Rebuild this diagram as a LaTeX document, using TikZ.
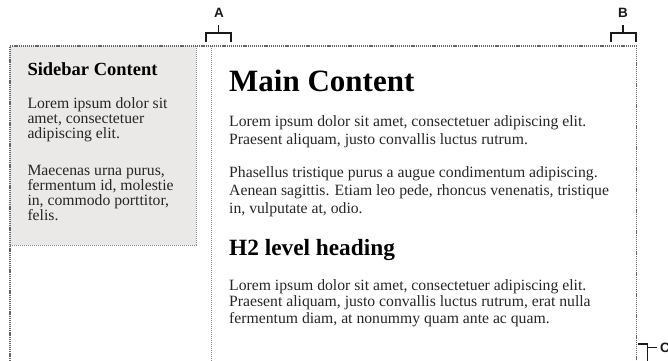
\documentclass[tikz,border=0pt]{standalone}
\usepackage{fontspec}
\setmainfont{Liberation Serif}
\newfontfamily\labelfont{Liberation Sans}
\definecolor{sidebargray}{RGB}{235,233,232}
\tikzset{
  outerline/.style={draw=black!60, line width=1.3pt, dash pattern=on 1.2pt off 0.9pt},
  boxline/.style={draw=black!45, line width=0.9pt, dash pattern=on 1pt off 1pt},
  bracket/.style={draw=black!90, line width=1.3pt},
  marklabel/.style={font=\labelfont\bfseries\fontsize{13.5}{13.5}\selectfont, text=black!90, inner sep=0pt},
  bodytext/.style={anchor=base west, inner sep=0pt, align=left, text=black!85},
  sidetext/.style={bodytext, font=\fontsize{15.7}{15}\selectfont},
  maintext/.style={bodytext, font=\fontsize{15.7}{18}\selectfont},
}
\begin{document}
\begin{tikzpicture}[x=1pt,y=-1pt]
    \useasboundingbox (0,0) rectangle (668,360);
    % Sidebar box
    \fill[sidebargray] (10,46) rectangle (196,245);
    \draw[boxline] (196,46) -- (196,245) -- (10,245);
    % Main content box
    \draw[boxline] (211,46) -- (211,365);
    % Outer container
    \draw[outerline] (10,365) -- (10,46) -- (636.5,46) -- (636.5,365);
    % Sidebar text (nodes sit on the baseline of their last line)
    \node[bodytext, text=black, font=\fontsize{18.5}{20}\selectfont\bfseries] (sidehead) at (27.3,75) {Sidebar Content};
    \node[sidetext] (sideone) at (27.3,138.3) {Lorem ipsum dolor sit\\amet, consectetuer\\adipiscing elit.};
    \node[sidetext] (sidetwo) at (27.3,220) {Maecenas urna purus,\\fermentum id, molestie\\in, commodo porttitor,\\felis.};
    % Main text
    \node[bodytext, text=black, font=\fontsize{31}{33}\selectfont\bfseries] (mainhead) at (229,91.7) {Main Content};
    \node[maintext] (mainone) at (229,144) {Lorem ipsum dolor sit amet, consectetuer adipiscing elit.\\Praesent aliquam, justo convallis luctus rutrum.};
    \node[maintext] (maintwo) at (229,213) {Phasellus tristique purus a augue condimentum adipiscing.\\Aenean sagittis. Etiam leo pede, rhoncus venenatis, tristique\\in, vulputate at, odio.};
    \node[bodytext, text=black, font=\fontsize{23.3}{25}\selectfont\bfseries] (subhead) at (229,255) {H2 level heading};
    \node[maintext, font=\fontsize{15.7}{16.5}\selectfont] (mainthree) at (229,323) {Lorem ipsum dolor sit amet, consectetuer adipiscing elit.\\Praesent aliquam, justo convallis luctus rutrum, erat nulla\\fermentum diam, at nonummy quam ante ac quam.};
    % Bracket A
    \node[marklabel] (labA) at (219,13) {A};
    \draw[bracket] (206,42) -- (206,33) -- (231,33) -- (231,42);
    \draw[bracket] (218.5,33) -- (218.5,25);
    % Bracket B
    \node[marklabel] (labB) at (623,13) {B};
    \draw[bracket] (611,42) -- (611,33) -- (636,33) -- (636,42);
    \draw[bracket] (623,33) -- (623,25);
    % Bracket C
    \node[marklabel, anchor=west] (labC) at (660,348) {C};
    \draw[bracket] (638,344) -- (647.5,344) -- (647.5,362);
    \draw[bracket] (647.5,347.5) -- (657,347.5);
\end{tikzpicture}
\end{document}
